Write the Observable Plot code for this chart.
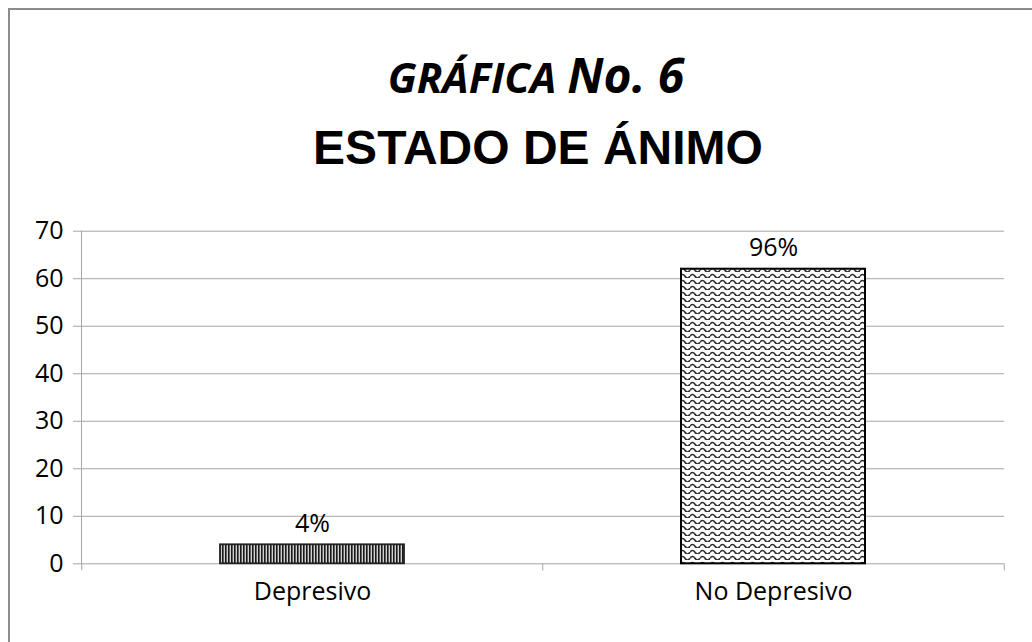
<!DOCTYPE html>
<html><head><meta charset="utf-8">
<script src="https://cdn.jsdelivr.net/npm/d3@7"></script>
<script src="https://cdn.jsdelivr.net/npm/@observablehq/plot@0.6"></script>
<style>
html,body{margin:0;padding:0;background:#fff;}
#wrap{position:relative;width:1032px;height:642px;overflow:hidden;background:#fff;}
#frame{position:absolute;left:8px;top:8px;width:1100px;height:700px;border:2px solid #8c8c8c;box-sizing:border-box;pointer-events:none;}
#title{position:absolute;left:0;top:0;}
#chart{position:absolute;left:0;top:200px;}
</style></head>
<body>
<div id="wrap">
  <svg id="title" width="1032" height="200">
    <text x="536" y="93" text-anchor="middle" font-family="Open Sans" font-weight="bold" font-style="italic" fill="#000"><tspan font-size="42">GRÁFICA </tspan><tspan font-size="48">No. 6</tspan></text>
    <text x="538" y="164" text-anchor="middle" font-family="Liberation Sans, Arial" font-weight="bold" font-size="48" fill="#000">ESTADO DE ÁNIMO</text>
  </svg>
  <div id="chart"></div>
  <div id="frame"></div>
</div>
<script>
const categories = ["Depresivo", "No Depresivo"];
const values = [4, 62];
const valueLabels = ["4%", "96%"];
const yTicks = [0, 10, 20, 30, 40, 50, 60, 70];

const data = categories.map((c, i) => ({cat: c, value: values[i], label: valueLabels[i]}));

const W = 1032, H = 442, ML = 81, MR = 28;
const step = (W - ML - MR) / categories.length;
const font = "Open Sans, Noto Sans, sans-serif";

const chart = Plot.plot({
  width: W, height: H,
  marginTop: 30.7, marginBottom: 78.7, marginLeft: ML, marginRight: MR,
  style: {background: "#fff", color: "#000"},
  x: {domain: categories, paddingInner: 0.6, paddingOuter: 0.3, axis: null, label: null},
  y: {domain: [0, 70], axis: null, label: null},
  marks: [
    Plot.gridY(yTicks, {stroke: "#a6a6a6", strokeOpacity: 1, strokeWidth: 1}),
    Plot.frame({anchor: "left", stroke: "#a6a6a6"}),
    Plot.axisY(yTicks, {tickSize: 8, tickPadding: 10, stroke: "#a6a6a6", fill: "#000", fontSize: 25, fontFamily: font, label: null}),
    Plot.ruleX(categories, {x: d => d, y1: 0, y2: -1.5, dx: -step / 2, stroke: "#a6a6a6"}),
    Plot.ruleX(categories.slice(-1), {x: d => d, y1: 0, y2: -1.5, dx: step / 2, stroke: "#a6a6a6"}),
    Plot.barY(data.slice(0, 1), {x: "cat", y: "value", fill: "url(#stripes)", stroke: "#222", strokeWidth: 1.8}),
    Plot.barY(data.slice(1), {x: "cat", y: "value", fill: "url(#waves)", stroke: "#000", strokeWidth: 2}),
    Plot.text(data, {x: "cat", y: "value", text: "label", dy: -21, fontSize: 25, fontFamily: font, fill: "#000"}),
    Plot.text(data, {x: "cat", y: 0, text: "cat", dy: 28, fontSize: 25, fontFamily: font, fill: "#000"})
  ]
});

const defs = d3.select(chart).insert("defs", ":first-child");
const p1 = defs.append("pattern").attr("id", "stripes").attr("patternUnits", "userSpaceOnUse")
  .attr("width", 3).attr("height", 10);
p1.append("rect").attr("width", 3).attr("height", 10).attr("fill", "#d0d0d0");
p1.append("rect").attr("width", 1.6).attr("height", 10).attr("fill", "#1a1a1a");
const p2 = defs.append("pattern").attr("id", "waves").attr("patternUnits", "userSpaceOnUse")
  .attr("width", 10).attr("height", 6);
p2.append("rect").attr("width", 10).attr("height", 6).attr("fill", "#fff");
p2.append("path").attr("d", "M0,4.3 Q2.5,0.7 5,4.3 T10,4.3").attr("fill", "none")
  .attr("stroke", "#2e2e2e").attr("stroke-width", 1.6);

document.getElementById("chart").appendChild(chart);
</script>
</body></html>
